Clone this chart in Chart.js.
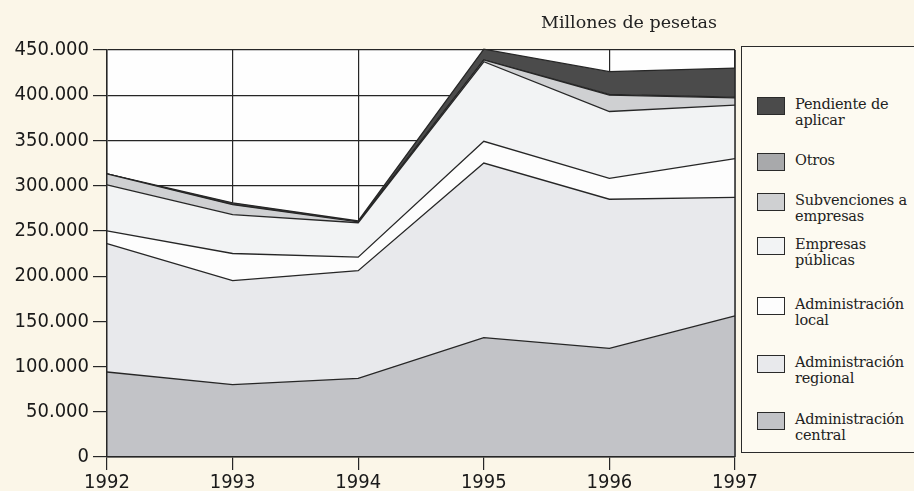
<!DOCTYPE html>
<html>
<head>
<meta charset="utf-8">
<script src="https://cdn.jsdelivr.net/npm/chart.js@4/dist/chart.umd.min.js"></script>
<style>
  html, body { margin: 0; padding: 0; background: #fbf6e8; }
  #wrap { position: relative; width: 914px; height: 491px; overflow: hidden; }
  #chart { position: absolute; left: 0; top: 0; }
  #title { position: absolute; left: 541px; top: 12px; font: 17.5px "DejaVu Serif", serif; color: #222; white-space: nowrap; }
  #legend { position: absolute; left: 741px; top: 46px; width: 190px; height: 407px; border: 1.5px solid #2a2a2a; background: #fdfaf1; box-sizing: border-box; }
  .item { position: absolute; left: 15px; display: flex; align-items: flex-start; }
  .sw { width: 28px; height: 18px; border: 1px solid #2a2a2a; box-sizing: border-box; margin-right: 10px; flex: none; }
  .lbl { font: 14.5px/16px "DejaVu Serif", serif; color: #222; margin-top: -1px; letter-spacing: -0.2px; white-space: nowrap; }
</style>
</head>
<body>
<div id="wrap">
  <canvas id="chart" width="914" height="491"></canvas>
  <div id="title">Millones de pesetas</div>
  <div id="legend"></div>
</div>
<script>
// --- Data (millones de pesetas) ---
const years = ['1992', '1993', '1994', '1995', '1996', '1997'];
const central      = [94000, 80000, 87000, 132000, 120000, 156000];
const regional     = [142000, 115000, 119000, 193000, 165000, 131000];
const local        = [14000, 30000, 15000, 24000, 23000, 43000];
const empresas     = [51000, 43000, 38000, 88000, 74000, 59000];
const subvenciones = [12000, 11000, 1000, 2000, 18000, 8000];
const otros        = [0, 0, 0, 0, 1000, 1000];
const pendiente    = [0, 2000, 1000, 12000, 25000, 32000];
const yTicks = [0, 50000, 100000, 150000, 200000, 250000, 300000, 350000, 400000, 450000];

// bottom to top
const series = [
  { label: 'Administración central',  data: central,      color: '#c2c3c7' },
  { label: 'Administración regional', data: regional,     color: '#e8e9ec' },
  { label: 'Administración local',    data: local,        color: '#fdfdfd' },
  { label: 'Empresas públicas',       data: empresas,     color: '#f2f3f4' },
  { label: 'Subvenciones a empresas', data: subvenciones, color: '#cfd0d2' },
  { label: 'Otros',                   data: otros,        color: '#a8a9ab' },
  { label: 'Pendiente de aplicar',    data: pendiente,    color: '#4b4b4b' }
];

const fmt = v => String(v).replace(/\B(?=(\d{3})+(?!\d))/g, '.');
const tickFont = { family: '"Liberation Sans Narrow", "DejaVu Sans Condensed", "Roboto Condensed", sans-serif', size: 20 };
const ink = '#262626';

// white plot area + right frame line over the fills
const plotFrame = {
  id: 'plotFrame',
  beforeDraw(chart) {
    const { ctx, chartArea: a } = chart;
    ctx.save();
    ctx.fillStyle = '#fefefe';
    ctx.fillRect(a.left, a.top, a.right - a.left, a.bottom - a.top);
    ctx.restore();
  },
  afterDatasetsDraw(chart) {
    const { ctx, chartArea: a } = chart;
    ctx.save();
    ctx.strokeStyle = ink;
    ctx.lineWidth = 1.5;
    ctx.beginPath();
    ctx.moveTo(a.right, a.top);
    ctx.lineTo(a.right, a.bottom);
    ctx.stroke();
    ctx.restore();
  }
};

new Chart(document.getElementById('chart'), {
  type: 'line',
  data: {
    labels: years,
    datasets: series.map((s, i) => ({
      label: s.label,
      data: s.data,
      backgroundColor: s.color,
      borderColor: ink,
      borderWidth: 1.3,
      fill: i === 0 ? 'origin' : '-1',
      pointRadius: 0,
      tension: 0,
      clip: false
    }))
  },
  options: {
    responsive: false,
    animation: false,
    layout: { padding: { top: 50, right: 179, bottom: 0, left: 0 } },
    plugins: { legend: { display: false }, tooltip: { enabled: false } },
    scales: {
      x: {
        offset: false,
        grid: { color: ink, lineWidth: 1.2, tickLength: 13 },
        border: { color: ink, width: 1.5, z: 1 },
        ticks: { color: '#1a1a1a', font: tickFont, padding: 1, maxRotation: 0, autoSkip: false },
        afterFit: s => { s.height = 34; }
      },
      y: {
        stacked: true,
        min: 0,
        max: 450000,
        afterBuildTicks: s => { s.ticks = yTicks.map(v => ({ value: v })); },
        grid: { color: ink, lineWidth: 1.2, tickLength: 14 },
        border: { color: ink, width: 1.5, z: 1 },
        ticks: { color: '#1a1a1a', font: tickFont, padding: 4, callback: v => fmt(v) },
        afterFit: s => { s.width = 107; }
      }
    }
  },
  plugins: [plotFrame]
});

// --- Legend (top to bottom) ---
const legendTops = [50, 106, 146, 190, 250, 308, 365];
const legendText = [
  ['Pendiente de', 'aplicar'], ['Otros'], ['Subvenciones a', 'empresas'],
  ['Empresas', 'públicas'], ['Administración', 'local'],
  ['Administración', 'regional'], ['Administración', 'central']
];
const legend = document.getElementById('legend');
series.slice().reverse().forEach((s, i) => {
  const item = document.createElement('div');
  item.className = 'item';
  item.style.top = legendTops[i] + 'px';
  item.innerHTML = `<div class="sw" style="background:${s.color}"></div>
    <div class="lbl">${legendText[i].join('<br>')}</div>`;
  legend.appendChild(item);
});
</script>
</body>
</html>
